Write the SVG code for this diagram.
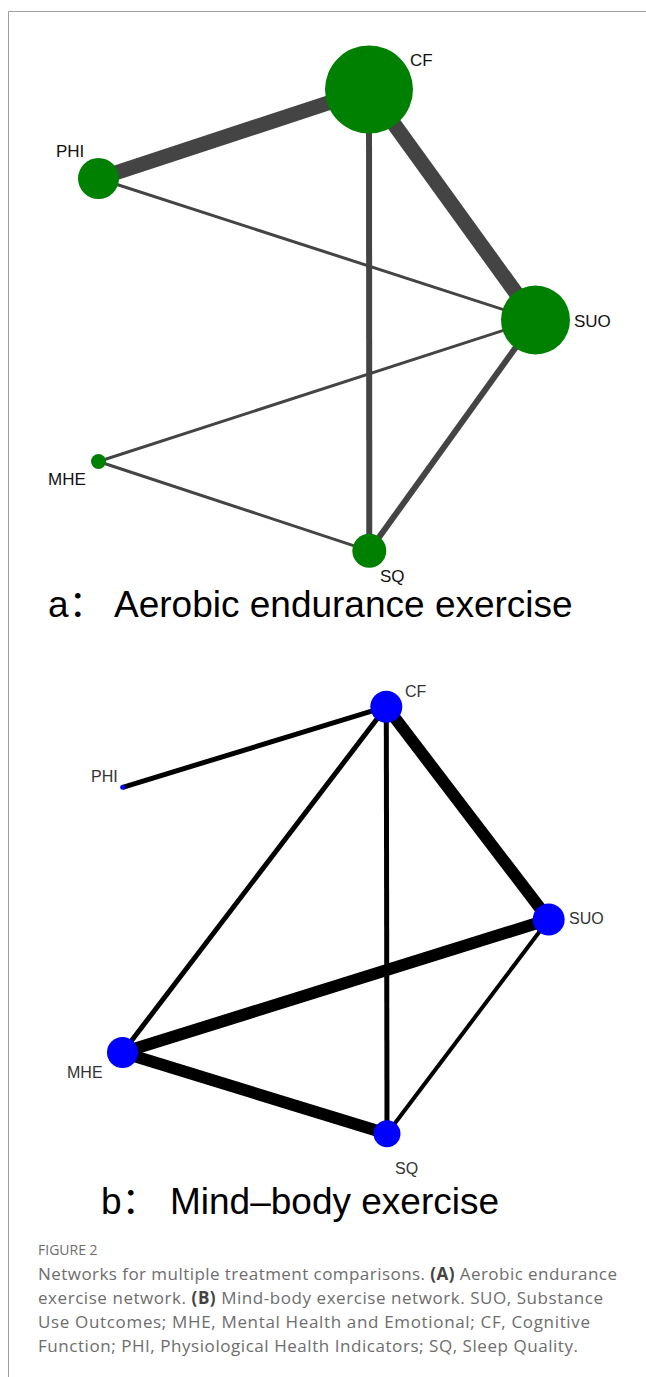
<svg xmlns="http://www.w3.org/2000/svg" width="646" height="1377" viewBox="0 0 646 1377">
<style>
.ea{stroke:#444444;stroke-linecap:butt;fill:none}
.eb{stroke:#000000;stroke-linecap:butt;fill:none}
.na{fill:#008000}
.nb{fill:#0000ff}
.la{font-family:"Liberation Sans",Arial,sans-serif;font-size:17px;fill:#111}
.lb{font-family:"Liberation Sans",Arial,sans-serif;font-size:16px;fill:#333}
.title{font-family:"Liberation Sans",Arial,"Noto Sans CJK SC",sans-serif;font-size:37px;fill:#000}
.cap{font-family:"Open Sans","Noto Sans",sans-serif;font-size:17px;fill:#6d6d6d}
.caph{font-family:"Open Sans","Noto Sans",sans-serif;font-size:14px;fill:#6d6d6d}
.bold{font-weight:bold;fill:#444}
</style>
<rect width="646" height="1377" fill="#ffffff"/>
<path d="M8.5,1377 V11.5 H646" stroke="#a0a0a0" stroke-width="1" fill="none"/>

<g id="connectors-a">
<line class="ea" x1="98.5" y1="178.5" x2="369" y2="89.5" stroke-width="15"/>
<line class="ea" x1="369" y1="89.5" x2="535.5" y2="320" stroke-width="15"/>
<line class="ea" x1="369" y1="89.5" x2="369.3" y2="550.8" stroke-width="6"/>
<line class="ea" x1="535.5" y1="320" x2="369.3" y2="550.8" stroke-width="6"/>
<line class="ea" x1="98.5" y1="178.5" x2="535.5" y2="320" stroke-width="3"/>
<line class="ea" x1="98.5" y1="461.5" x2="535.5" y2="320" stroke-width="3"/>
<line class="ea" x1="98.5" y1="461.5" x2="369.3" y2="550.8" stroke-width="3"/>
</g>
<g id="node-a-CF"><circle class="na" cx="369" cy="89.5" r="44"/><text class="la" x="410" y="66">CF</text></g>
<g id="node-a-PHI"><circle class="na" cx="98.5" cy="178.5" r="20.5"/><text class="la" x="56" y="157">PHI</text></g>
<g id="node-a-SUO"><circle class="na" cx="535.5" cy="320" r="34.5"/><text class="la" x="574" y="327">SUO</text></g>
<g id="node-a-MHE"><circle class="na" cx="98.5" cy="461.5" r="7.5"/><text class="la" x="48" y="485">MHE</text></g>
<g id="node-a-SQ"><circle class="na" cx="369.3" cy="550.8" r="17"/><text class="la" x="380" y="582">SQ</text></g>
<g id="title-a"><text class="title" x="48" y="617">a：</text><text class="title" x="114" y="617">Aerobic endurance exercise</text></g>

<g id="connectors-b">
<line class="eb" x1="122.7" y1="787.3" x2="386.3" y2="706.7" stroke-width="5"/>
<line class="eb" x1="386.3" y1="706.7" x2="122.5" y2="1052.5" stroke-width="5"/>
<line class="eb" x1="386.3" y1="706.7" x2="387" y2="1133.8" stroke-width="5"/>
<line class="eb" x1="386.3" y1="706.7" x2="548.7" y2="919.5" stroke-width="12"/>
<line class="eb" x1="548.7" y1="919.5" x2="122.5" y2="1052.5" stroke-width="12"/>
<line class="eb" x1="548.7" y1="919.5" x2="387" y2="1133.8" stroke-width="4"/>
<line class="eb" x1="122.5" y1="1052.5" x2="387" y2="1133.8" stroke-width="12"/>
</g>
<g id="node-b-CF"><circle class="nb" cx="386.3" cy="706.7" r="16"/><text class="lb" x="405" y="697">CF</text></g>
<g id="node-b-PHI"><circle class="nb" cx="122.7" cy="787.3" r="2.5"/><text class="lb" x="91" y="782">PHI</text></g>
<g id="node-b-SUO"><circle class="nb" cx="548.7" cy="919.5" r="16"/><text class="lb" x="569" y="924">SUO</text></g>
<g id="node-b-MHE"><circle class="nb" cx="122.5" cy="1052.5" r="15.5"/><text class="lb" x="67" y="1078">MHE</text></g>
<g id="node-b-SQ"><circle class="nb" cx="387" cy="1133.8" r="13.5"/><text class="lb" x="395" y="1174">SQ</text></g>
<g id="title-b"><text class="title" x="101" y="1214">b：</text><text class="title" x="170" y="1214">Mind–body exercise</text></g>

<g id="caption">
<text class="caph" x="38" y="1255">FIGURE 2</text>
<text class="cap" x="38" y="1280" textLength="579">Networks for multiple treatment comparisons. <tspan class="bold">(A)</tspan> Aerobic endurance</text>
<text class="cap" x="38" y="1304" textLength="565">exercise network. <tspan class="bold">(B)</tspan> Mind-body exercise network. SUO, Substance</text>
<text class="cap" x="38" y="1328" textLength="552">Use Outcomes; MHE, Mental Health and Emotional; CF, Cognitive</text>
<text class="cap" x="38" y="1352" textLength="540">Function; PHI, Physiological Health Indicators; SQ, Sleep Quality.</text>
</g>
</svg>
